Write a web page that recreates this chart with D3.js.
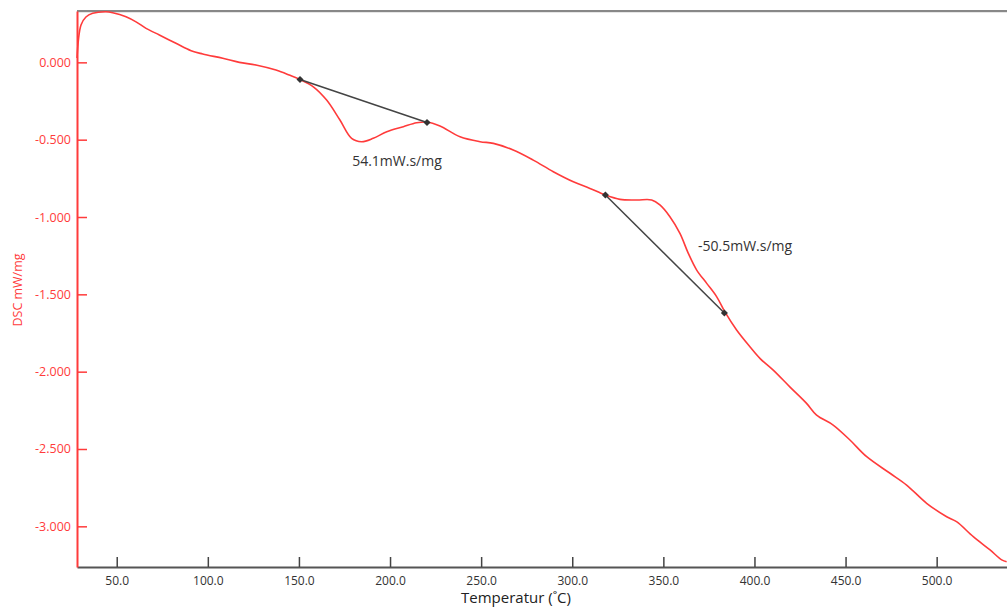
<!DOCTYPE html>
<html><head><meta charset="utf-8">
<script src="https://cdn.jsdelivr.net/npm/d3@7"></script>
<style>body{margin:0;background:#fff}svg{display:block}text{font-family:"Open Sans",sans-serif}</style>
</head><body><svg id="c" width="1007" height="608"></svg>
<script>
const temps = [28.2,30.4,33.1,36.8,44.1,47.8,55.1,60.6,66.1,73.4,82.5,90.8,97.2,108.2,117.3,126.4,137.4,144.7,150.6,157.9,165.2,172.5,178.9,184.4,190.8,198.2,207.3,214.6,220.3,227.4,238.4,249.4,256.7,267.6,278.6,289.6,300.6,309.7,318.2,326.2,335.4,343.6,348.1,353.6,359.1,363.7,368.3,373.8,379.3,383.8,390.2,397.5,403.0,410.3,419.4,428.6,434.1,443.2,452.4,461.6,474.4,483.5,494.5,505.5,510.9,520.1,529.3,535.7,538.4];
const dsc = [0.028,0.241,0.293,0.317,0.327,0.321,0.295,0.262,0.220,0.177,0.123,0.075,0.054,0.026,0.000,-0.017,-0.050,-0.082,-0.111,-0.158,-0.244,-0.373,-0.491,-0.513,-0.491,-0.449,-0.416,-0.391,-0.386,-0.412,-0.481,-0.513,-0.524,-0.567,-0.632,-0.707,-0.772,-0.815,-0.858,-0.886,-0.890,-0.890,-0.922,-0.998,-1.106,-1.235,-1.343,-1.429,-1.516,-1.614,-1.731,-1.839,-1.914,-1.990,-2.098,-2.205,-2.281,-2.345,-2.442,-2.550,-2.657,-2.733,-2.851,-2.938,-2.970,-3.067,-3.153,-3.217,-3.229];
const xTicks = [50,100,150,200,250,300,350,400,450,500];
const yTicks = [0,-0.5,-1,-1.5,-2,-2.5,-3];
const baselines = [
  {t1:150.6, v1:-0.111, t2:220.3, v2:-0.389, label:"54.1mW.s/mg", lt:203.8, lv:-0.645, anchor:"middle"},
  {t1:318.2, v1:-0.858, t2:383.5, v2:-1.621, label:"-50.5mW.s/mg", lt:369.0, lv:-1.195, anchor:"start"}
];

const svg = d3.select("#c");
const x = d3.scaleLinear().domain([28.2, 538.6]).range([77, 1007]);
const y = d3.scaleLinear().domain([0.332, -3.263]).range([11, 567]);
const red = "#ff3b3b";
const fmt = f => d => d3.format(f)(d).replace("\u2212","-");

// top border
svg.append("line").attr("x1",77).attr("x2",1007).attr("y1",11).attr("y2",11)
  .attr("stroke","#888").attr("stroke-width",2);
svg.append("line").attr("x1",77).attr("x2",1007).attr("y1",12.5).attr("y2",12.5)
  .attr("stroke","#e6e6e6").attr("stroke-width",1);

// x axis
const xa = svg.append("g").attr("transform","translate(0,567)")
  .call(d3.axisBottom(x).tickValues(xTicks).tickSizeInner(-10).tickSizeOuter(0).tickPadding(9).tickFormat(fmt(".1f")));
xa.select(".domain").attr("stroke","#555").attr("stroke-width",2);
xa.selectAll(".tick line").attr("stroke","#444").attr("stroke-width",1.5);
xa.selectAll(".tick text").attr("fill","#333").attr("font-size",12);

// y axis
const ya = svg.append("g").attr("transform","translate(77,0)")
  .call(d3.axisLeft(y).tickValues(yTicks).tickSizeInner(-10).tickSizeOuter(0).tickPadding(6).tickFormat(fmt(".3f")));
ya.select(".domain").attr("stroke",red).attr("stroke-width",2);
ya.selectAll(".tick line").attr("stroke",red).attr("stroke-width",1.5);
ya.selectAll(".tick text").attr("fill",red).attr("font-size",12.5);

// curve
const pts = temps.map((t,i)=>[t,dsc[i]]);
svg.append("path").datum(pts)
  .attr("fill","none").attr("stroke",red).attr("stroke-width",1.6)
  .attr("d", d3.line().x(d=>x(d[0])).y(d=>y(d[1])).curve(d3.curveCatmullRom.alpha(0.5)));

// baselines
baselines.forEach(b=>{
  svg.append("line").attr("x1",x(b.t1)).attr("y1",y(b.v1)).attr("x2",x(b.t2)).attr("y2",y(b.v2))
    .attr("stroke","#444").attr("stroke-width",1.5);
  [[b.t1,b.v1],[b.t2,b.v2]].forEach(p=>{
    svg.append("path").attr("transform",`translate(${x(p[0])},${y(p[1])}) rotate(45)`)
      .attr("d","M-2.5,-2.5H2.5V2.5H-2.5Z").attr("fill","#333");
  });
  svg.append("text").attr("x",x(b.lt)).attr("y",y(b.lv)).attr("text-anchor",b.anchor)
    .attr("dominant-baseline","middle").attr("fill","#333").attr("font-size",14).text(b.label);
});

// axis titles
svg.append("text").attr("x",516).attr("y",603).attr("text-anchor","middle")
  .attr("fill","#222").attr("font-size",15).text("Temperatur (˚C)");
svg.append("text").attr("transform","translate(22,290) rotate(-90)").attr("text-anchor","middle")
  .attr("fill",red).attr("font-size",12.5).text("DSC mW/mg");
</script></body></html>
